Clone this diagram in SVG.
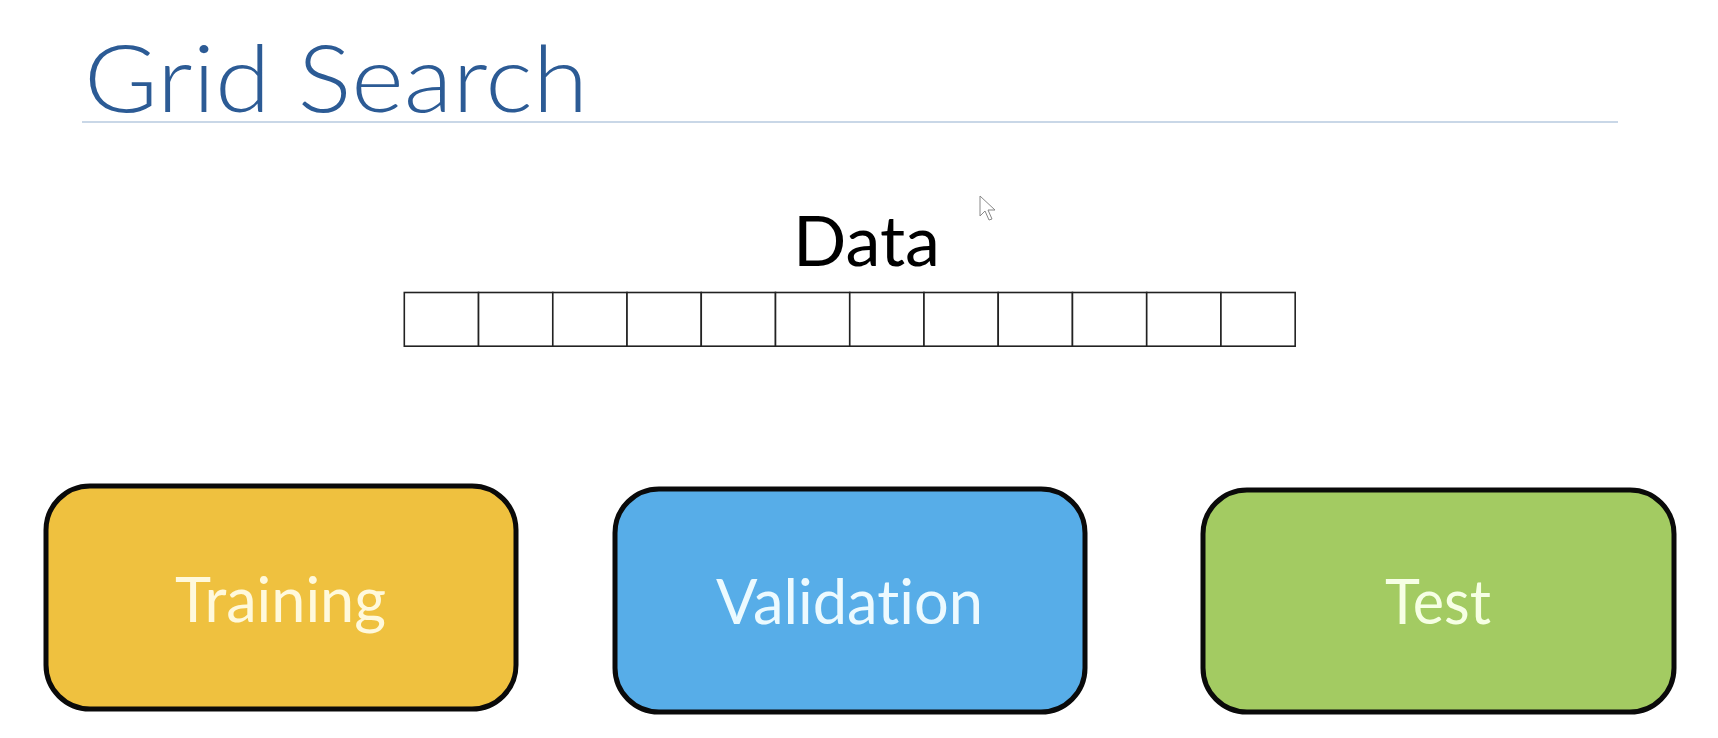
<svg xmlns="http://www.w3.org/2000/svg" width="1718" height="738" viewBox="0 0 1718 738">
  <style>
    text { font-variant-ligatures: none; }
    .cell { fill: #ffffff; stroke: #222222; stroke-width: 1.6; }
    .box { stroke: #0a0a0a; stroke-width: 5; }
    .lbl { font-family: Lato, "Open Sans", "Liberation Sans", sans-serif; font-size: 62px; text-anchor: middle; }
  </style>
  <rect x="0" y="0" width="1718" height="738" fill="#ffffff"/>
  <g id="title">
    <text x="84" y="112" font-family="Lato, 'Liberation Sans', sans-serif" font-weight="300" font-size="92" fill="#2c5b95" textLength="504" lengthAdjust="spacingAndGlyphs">Grid Search</text>
    <line x1="82" y1="122" x2="1618" y2="122" stroke="#c9d7e7" stroke-width="2"/>
  </g>
  <g id="data">
    <text x="866.5" y="266" font-family="Lato, 'Open Sans', sans-serif" font-size="69" fill="#000000" text-anchor="middle" textLength="147" lengthAdjust="spacingAndGlyphs">Data</text>
    <g id="data-cells">
      <rect class="cell" x="404.3" y="292.5" width="74.24" height="53.7"/>
      <rect class="cell" x="478.54" y="292.5" width="74.24" height="53.7"/>
      <rect class="cell" x="552.78" y="292.5" width="74.24" height="53.7"/>
      <rect class="cell" x="627.02" y="292.5" width="74.24" height="53.7"/>
      <rect class="cell" x="701.26" y="292.5" width="74.24" height="53.7"/>
      <rect class="cell" x="775.5" y="292.5" width="74.24" height="53.7"/>
      <rect class="cell" x="849.74" y="292.5" width="74.24" height="53.7"/>
      <rect class="cell" x="923.98" y="292.5" width="74.24" height="53.7"/>
      <rect class="cell" x="998.22" y="292.5" width="74.24" height="53.7"/>
      <rect class="cell" x="1072.46" y="292.5" width="74.24" height="53.7"/>
      <rect class="cell" x="1146.7" y="292.5" width="74.24" height="53.7"/>
      <rect class="cell" x="1220.94" y="292.5" width="74.24" height="53.7"/>
    </g>
  </g>
  <g id="cursor">
    <path d="M980,196 L980,216 L985,211 L989,220 L992,219 L988,210 L995,210 Z" fill="#ffffff" stroke="#888888" stroke-width="1"/>
  </g>
  <g id="training">
    <rect class="box" x="46" y="486" width="470" height="223" rx="44" ry="44" fill="#efc13f"/>
    <text class="lbl" x="280.5" y="622" fill="#fff9dc" textLength="211" lengthAdjust="spacingAndGlyphs">Training</text>
  </g>
  <g id="validation">
    <rect class="box" x="615" y="489" width="470" height="223" rx="44" ry="44" fill="#57ade8"/>
    <text class="lbl" x="849.5" y="624" fill="#ecfaff" textLength="267" lengthAdjust="spacingAndGlyphs">Validation</text>
  </g>
  <g id="test">
    <rect class="box" x="1203" y="490" width="471" height="222" rx="44" ry="44" fill="#a3cb62"/>
    <text class="lbl" x="1438" y="624" fill="#f6ffe4" textLength="106" lengthAdjust="spacingAndGlyphs">Test</text>
  </g>
  <g id="connectors"></g>
</svg>
